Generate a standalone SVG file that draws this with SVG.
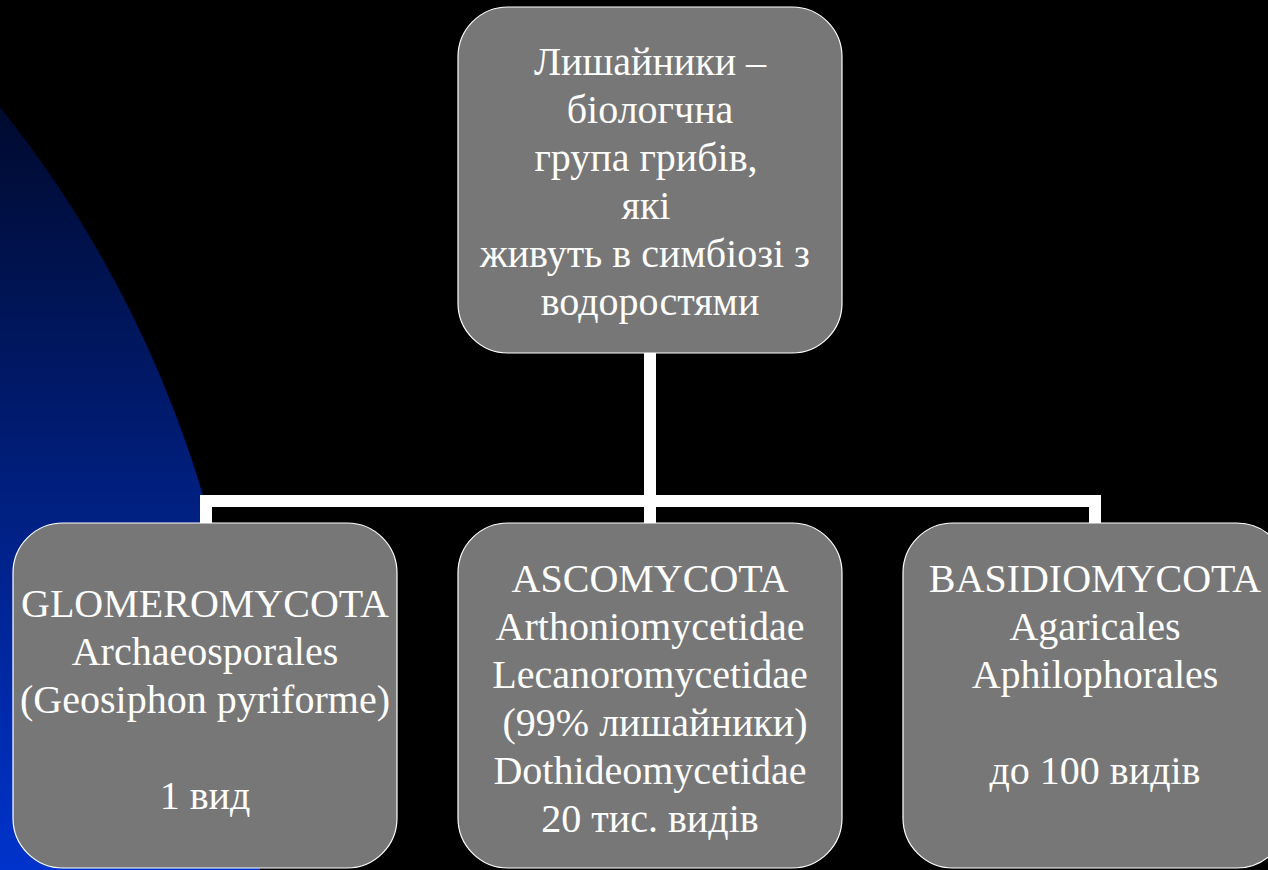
<svg xmlns="http://www.w3.org/2000/svg" width="1268" height="870" viewBox="0 0 1268 870">
<defs>
<linearGradient id="bg" x1="0" y1="107" x2="0" y2="870" gradientUnits="userSpaceOnUse">
<stop offset="0" stop-color="#000a2e"/>
<stop offset="1" stop-color="#0033cc"/>
</linearGradient>
<style>
.box{fill:#777777;stroke:#ffffff;stroke-width:1.2}
.t{font-family:"Liberation Serif","DejaVu Serif",serif;font-size:40px;fill:#ffffff;text-anchor:middle}
.c{stroke:#ffffff;stroke-width:12;fill:none}
</style>
</defs>
<rect width="1268" height="870" fill="#000000"/>
<path d="M0,107 Q250,420 260,870 L0,870 Z" fill="url(#bg)"/>
<g id="connectors">
<line class="c" x1="650" y1="353" x2="650" y2="523"/>
<polyline class="c" points="206,523 206,501 1095,501 1095,523"/>
</g>
<g id="root">
<rect class="box" x="458" y="7" width="384" height="346" rx="50"/>
<text class="t"><tspan x="650" y="75">Лишайники –</tspan><tspan x="650" y="123">біологчна</tspan><tspan x="646" y="171">група грибів,</tspan><tspan x="646" y="219">які</tspan><tspan x="645" y="267">живуть в симбіозі з</tspan><tspan x="650" y="315">водоростями</tspan></text>
</g>
<g id="glomeromycota">
<rect class="box" x="13" y="523" width="384" height="345" rx="50"/>
<text class="t"><tspan x="205" y="617">GLOMEROMYCOTA</tspan><tspan x="205" y="665">Archaeosporales</tspan><tspan x="205" y="713">(Geosiphon pyriforme)</tspan><tspan x="205" y="809">1 вид</tspan></text>
</g>
<g id="ascomycota">
<rect class="box" x="458" y="523" width="384" height="345" rx="50"/>
<text class="t"><tspan x="650" y="592">ASCOMYCOTA</tspan><tspan x="650" y="640">Arthoniomycetidae</tspan><tspan x="650" y="688">Lecanoromycetidae</tspan><tspan x="655" y="736">(99% лишайники)</tspan><tspan x="650" y="784">Dothideomycetidae</tspan><tspan x="650" y="832">20 тис. видів</tspan></text>
</g>
<g id="basidiomycota">
<rect class="box" x="903" y="523" width="384" height="345" rx="50"/>
<text class="t"><tspan x="1095" y="592">BASIDIOMYCOTA</tspan><tspan x="1095" y="640">Agaricales</tspan><tspan x="1095" y="688">Aphilophorales</tspan><tspan x="1095" y="784">до 100 видів</tspan></text>
</g>
</svg>
